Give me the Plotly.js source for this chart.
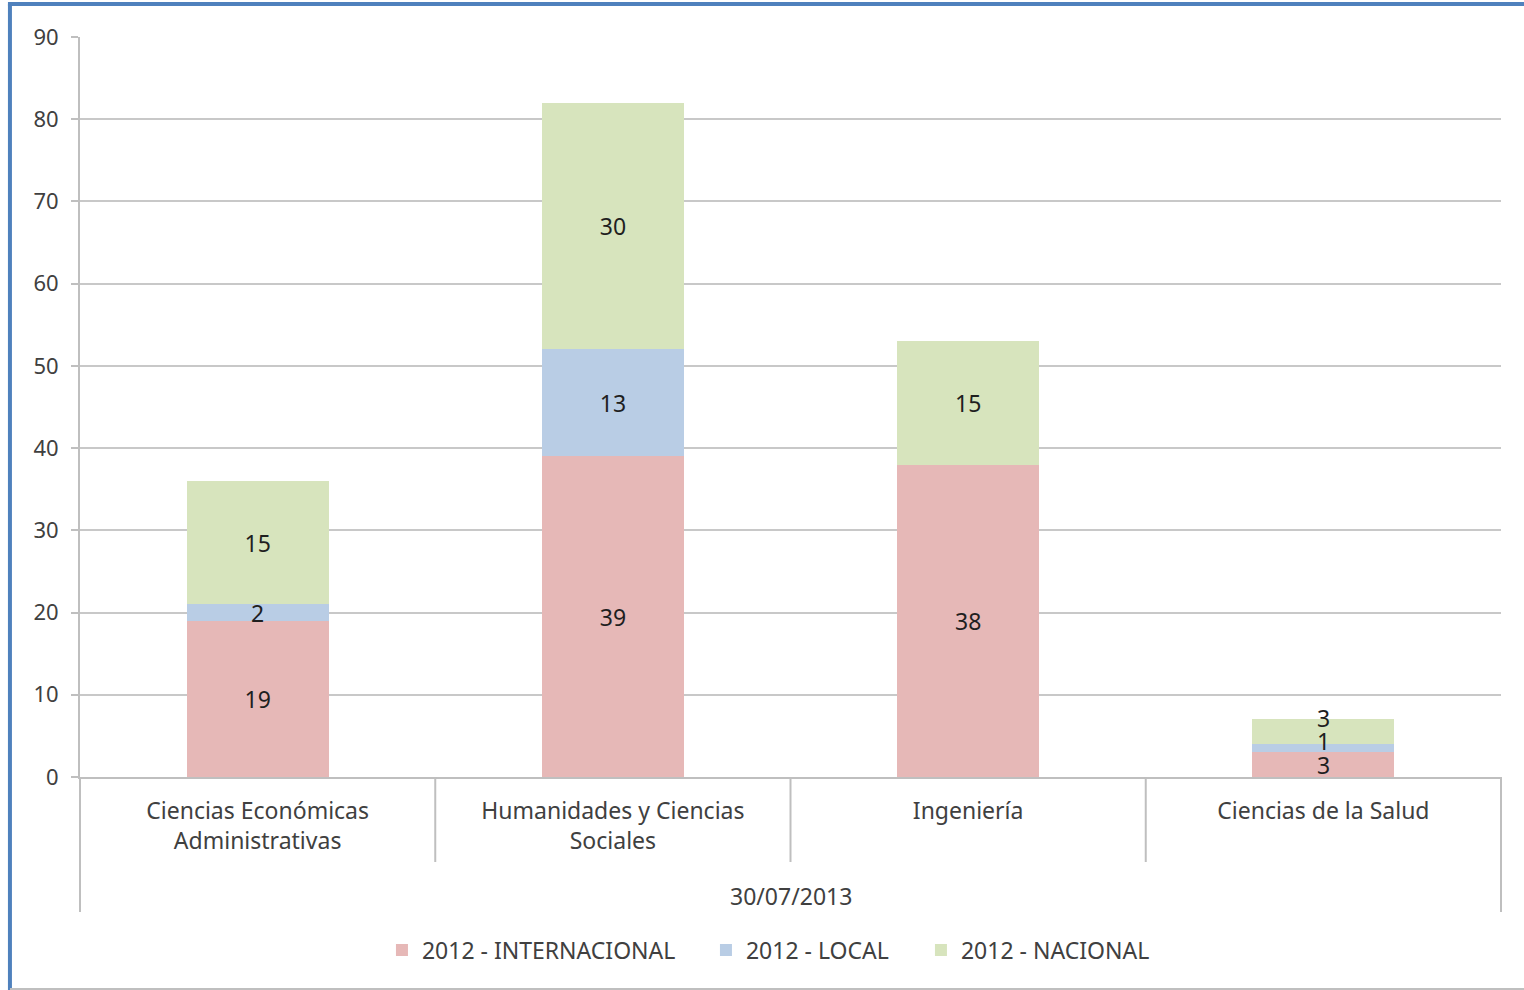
<!DOCTYPE html>
<html>
<head>
<meta charset="utf-8">
<script src="https://cdn.plot.ly/plotly-3.0.1.min.js"></script>
<style>
html,body{margin:0;padding:0;background:#fff;}
#chart{width:1524px;height:990px;}
</style>
</head>
<body>
<div id="chart"></div>
<script>
const groupLabel = "30/07/2013";
const categories = ["Ciencias Económicas<br>Administrativas", "Humanidades y Ciencias<br>Sociales", "Ingeniería", "Ciencias de la Salud"];
const seriesNames = ["2012 - INTERNACIONAL", "2012 - LOCAL", "2012 - NACIONAL"];
const internacional = [19, 39, 38, 3];
const local = [2, 13, 0, 1];
const nacional = [15, 30, 15, 3];
const yTicks = [0, 10, 20, 30, 40, 50, 60, 70, 80, 90];

const colors = ["#E6B8B7", "#B9CDE5", "#D7E4BD"];
const FONT = "Noto Sans, sans-serif";
const LBL = 23;
const series = [internacional, local, nacional];
// the last (short) column gets its labels as annotations, nudged apart like the original
const crowdedIdx = 3;
const labelShift = [0, 7, 14];
const legendNames = ["legend", "legend2", "legend3"];
const legendX = [0.2125, 0.4405, 0.5918];

const data = series.map((vals, s) => ({
  type: "bar",
  name: seriesNames[s],
  legend: legendNames[s],
  x: categories,
  y: vals,
  marker: {color: colors[s], line: {width: 0}},
  text: vals.map((v, i) => (v === 0 || i === crowdedIdx) ? "" : String(v)),
  textposition: "inside",
  insidetextanchor: "middle",
  textangle: 0,
  textfont: {family: FONT, size: LBL, color: "#1f1f1f"},
  hoverinfo: "none"
}));

const annotations = [];
let base = 0;
series.forEach((vals, s) => {
  const v = vals[crowdedIdx];
  if (v !== 0) {
    annotations.push({
      x: categories[crowdedIdx], xref: "x", y: base + v / 2, yref: "y",
      text: String(v), showarrow: false, yshift: labelShift[s],
      font: {family: FONT, size: LBL, color: "#1f1f1f"}
    });
  }
  base += v;
});
annotations.push({
  x: 0.5, xref: "paper", y: -0.1608, yref: "paper", yanchor: "middle",
  text: groupLabel, showarrow: false,
  font: {family: FONT, size: LBL, color: "#404040"}
});

const lineCol = "#bfbfbf";
const shapes = [];
for (let i = 1; i < categories.length; i++) {
  shapes.push({type: "line", xref: "x", yref: "paper", x0: i - 0.5, x1: i - 0.5, y0: 0, y1: -0.1149, line: {color: lineCol, width: 2}});
}
shapes.push({type: "line", xref: "paper", yref: "paper", x0: 0, x1: 0, y0: 0, y1: -0.1824, line: {color: lineCol, width: 2}});
shapes.push({type: "line", xref: "paper", yref: "paper", x0: 1, x1: 1, y0: 0, y1: -0.1824, line: {color: lineCol, width: 2}});
// outer frame
shapes.push({type: "line", xref: "paper", yref: "paper", x0: -0.0493, x1: -0.0493, y0: 1.0446, y1: -0.29, line: {color: "#4F81BD", width: 4}});
shapes.push({type: "line", xref: "paper", yref: "paper", x0: -0.0507, x1: 1.02, y0: 1.0446, y1: 1.0446, line: {color: "#4F81BD", width: 4}});
shapes.push({type: "line", xref: "paper", yref: "paper", x0: -0.0493, x1: 1.02, y0: -0.2865, y1: -0.2865, line: {color: lineCol, width: 2}});

const layout = {
  width: 1524, height: 990,
  paper_bgcolor: "#fff", plot_bgcolor: "#fff",
  margin: {l: 80, r: 23, t: 37, b: 213},
  barmode: "stack",
  bargap: 0.6,
  showlegend: true,
  uniformtext: {mode: "show", minsize: LBL},
  font: {family: FONT, color: "#404040", size: 22},
  xaxis: {
    type: "category",
    showline: true, linecolor: lineCol, linewidth: 2,
    ticks: "", showgrid: false,
    ticklabelstandoff: 12,
    tickfont: {family: FONT, size: LBL, color: "#404040"},
    fixedrange: true
  },
  yaxis: {
    range: [0, 90], tickvals: yTicks,
    showline: true, linecolor: lineCol, linewidth: 2,
    showgrid: true, gridcolor: "#c8c8c8", gridwidth: 2,
    ticks: "outside", ticklen: 7, tickcolor: lineCol, tickwidth: 2,
    ticklabelstandoff: 8,
    tickfont: {family: FONT, size: 22, color: "#404040"},
    zeroline: false, fixedrange: true
  },
  annotations: annotations,
  shapes: shapes
};
legendNames.forEach((ln, s) => {
  layout[ln] = {
    orientation: "h", x: legendX[s], xanchor: "left", y: -0.234, yanchor: "middle",
    font: {family: FONT, size: LBL, color: "#404040"},
    bgcolor: "rgba(0,0,0,0)"
  };
});

Plotly.newPlot("chart", data, layout, {displayModeBar: false, staticPlot: true});
</script>
</body>
</html>
